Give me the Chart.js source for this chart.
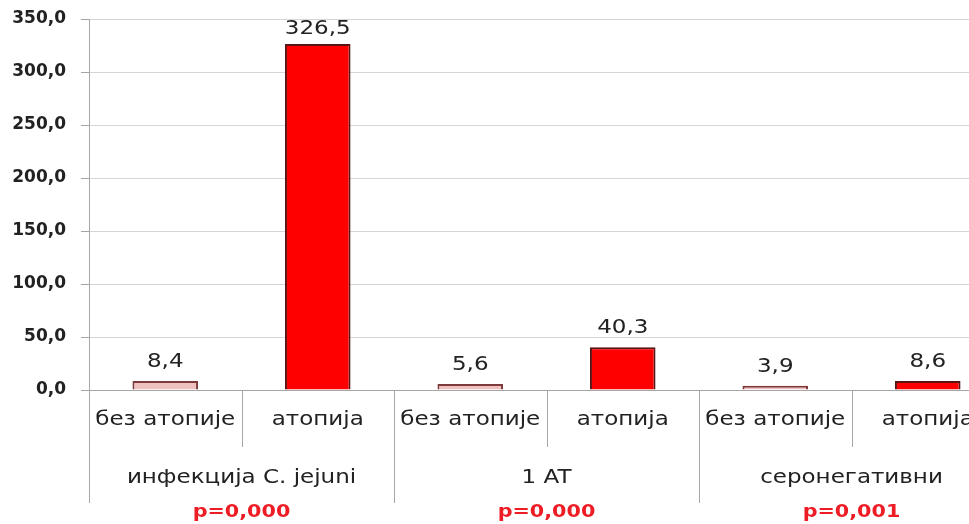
<!DOCTYPE html>
<html>
<head>
<meta charset="utf-8">
<script src="https://cdn.jsdelivr.net/npm/chart.js@4/dist/chart.umd.min.js"></script>
<style>
    html, body { margin: 0; padding: 0; background: #fff; overflow: hidden; }
    #wrap { width: 1010px; height: 524px; }
</style>
</head>
<body>
<div id="wrap"><canvas id="chart" width="1010" height="524"></canvas></div>
<script>
// values
const subLabels = ['без атопије', 'атопија', 'без атопије', 'атопија', 'без атопије', 'атопија'];
const groupLabels = ['инфекција C. jejuni', '1 AT', 'серонегативни'];
const pValues = ['p=0,000', 'p=0,000', 'p=0,001'];
const values = [8.4, 326.5, 5.6, 40.3, 3.9, 8.6];
const yTicks = [0, 50, 100, 150, 200, 250, 300, 350];

const LINE = '#a6a6a6';
const TEXT = '#222222';
const STRETCH = 1.15;

function fmt(v, d) {
    return v.toFixed(d).replace('.', ',');
}

function stretchText(ctx, text, x, y) {
    ctx.save();
    ctx.translate(x, y);
    ctx.scale(STRETCH, 1);
    ctx.fillText(text, 0, 0);
    ctx.restore();
}

// labels over bars, category rows, dividers and p-values
const extrasPlugin = {
    id: 'extras',
    afterDraw(chart) {
        const ctx = chart.ctx;
        const x = chart.scales.x;
        const area = chart.chartArea;
        const meta = chart.getDatasetMeta(0);
        const step = x.getPixelForValue(1) - x.getPixelForValue(0);

        ctx.save();
        ctx.textAlign = 'center';

        // value labels
        ctx.fillStyle = TEXT;
        ctx.font = '20px "DejaVu Sans"';
        ctx.textBaseline = 'alphabetic';
        meta.data.forEach((bar, i) => {
            stretchText(ctx, fmt(values[i], 1), bar.x, Math.max(bar.y - 14, 34));
        });

        // divider lines
        ctx.strokeStyle = LINE;
        ctx.lineWidth = 1;
        for (let i = 0; i <= subLabels.length; i++) {
            const px = Math.round(x.getPixelForValue(i) - step / 2) + 0.5;
            const bottom = i % 2 === 0 ? 503 : 447;
            ctx.beginPath();
            ctx.moveTo(px, area.bottom);
            ctx.lineTo(px, bottom);
            ctx.stroke();
        }

        // sub category labels
        ctx.textBaseline = 'middle';
        ctx.font = '20px "DejaVu Sans"';
        subLabels.forEach((lab, i) => {
            stretchText(ctx, lab, x.getPixelForValue(i), 420);
        });

        // group labels + p-values
        groupLabels.forEach((lab, g) => {
            const cx = (x.getPixelForValue(g * 2) + x.getPixelForValue(g * 2 + 1)) / 2;
            ctx.font = '20px "DejaVu Sans"';
            ctx.fillStyle = TEXT;
            stretchText(ctx, lab, cx, 478);
            ctx.font = 'bold 18px "DejaVu Sans"';
            ctx.fillStyle = '#ee1c24';
            stretchText(ctx, pValues[g], cx, 512);
        });
        ctx.restore();
    }
};

const ctx = document.getElementById('chart').getContext('2d');

new Chart(ctx, {
    type: 'bar',
    data: {
        labels: subLabels,
        datasets: [{
            data: values,
            backgroundColor: subLabels.map((l, i) => i % 2 === 0 ? '#efc0c0' : '#ff0000'),
            borderColor: subLabels.map((l, i) => i % 2 === 0 ? '#7e3a3a' : '#5a1414'),
            borderWidth: 2,
            categoryPercentage: 1,
            barPercentage: 0.43
        }]
    },
    options: {
        responsive: false,
        animation: false,
        layout: { padding: { top: 19, right: 6, left: 0, bottom: 0 } },
        plugins: {
            legend: { display: false },
            tooltip: { enabled: false }
        },
        scales: {
            x: {
                grid: { display: false },
                border: { color: LINE },
                ticks: { display: false },
                afterFit: (scale) => { scale.height = 134; }
            },
            y: {
                min: 0,
                max: 350,
                afterFit: (scale) => {
                    scale.width = 89;
                    scale.paddingTop = 0;
                    scale.paddingBottom = 0;
                },
                afterBuildTicks: (scale) => { scale.ticks = yTicks.map(v => ({ value: v })); },
                grid: { color: '#d6d6d6', tickLength: 8, tickColor: LINE },
                border: { color: LINE },
                ticks: {
                    padding: 15,
                    color: TEXT,
                    font: { family: 'DejaVu Sans', size: 17, weight: 'bold' },
                    callback: (v) => fmt(v, 1)
                }
            }
        }
    },
    plugins: [extrasPlugin]
});
</script>
</body>
</html>
